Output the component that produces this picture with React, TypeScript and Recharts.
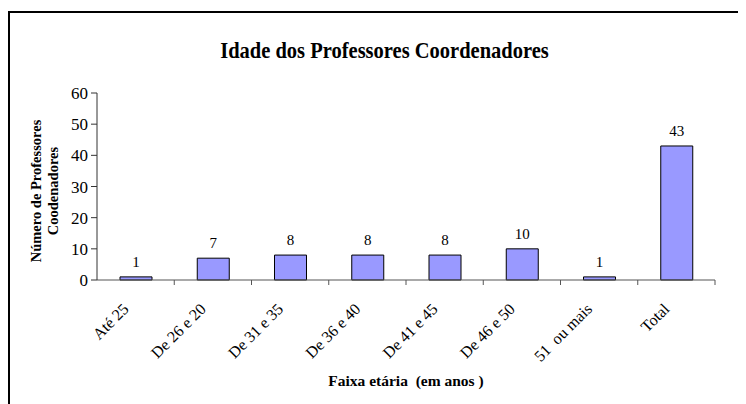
import React from 'react';
import { BarChart, Bar, XAxis, YAxis, LabelList } from 'recharts';

const categories = ['Até 25', 'De 26 e 20', 'De 31 e 35', 'De 36 e 40', 'De 41 e 45', 'De 46 e 50', '51  ou mais', 'Total'];
const professores = [1, 7, 8, 8, 8, 10, 1, 43];
const yTicks = [0, 10, 20, 30, 40, 50, 60];

const data = categories.map((faixa, i) => ({ faixa, valor: professores[i] }));

const FONT = '"Liberation Serif", "Times New Roman", serif';

// rotated label + tick mark on the right edge of each category band
const AngledTick = (props: any) => {
  const { x, y, payload } = props;
  const half = payload && payload.offset ? payload.offset : 77.25 / 2;
  const tx = x - 6;
  const ty = y + 22;
  return (
    <g>
      <line x1={x + half} y1={y - 8} x2={x + half} y2={y - 3} stroke="#555" />
      <text
        x={tx}
        y={ty}
        transform={`rotate(-45, ${tx}, ${ty})`}
        textAnchor="end"
        fontSize={16}
        fontFamily={FONT}
        fill="#000"
        style={{ whiteSpace: 'pre' }}
      >
        {payload.value}
      </text>
    </g>
  );
};

export default function App() {
  return (
    <div style={{ position: 'relative', width: 738, height: 396, overflow: 'hidden', fontFamily: FONT }}>
      <div
        style={{
          position: 'absolute',
          top: 3,
          left: 0,
          width: 800,
          height: 450,
          borderTop: '2px solid #000',
          borderLeft: '2px solid #000',
        }}
      />
      <div
        style={{
          position: 'absolute',
          top: 30,
          left: 0,
          width: 753,
          textAlign: 'center',
          fontWeight: 'bold',
          fontSize: 20.5,
          lineHeight: '24px',
          transform: 'scaleY(1.15)',
        }}
      >
        Idade dos Professores Coordenadores
      </div>
      <div
        style={{
          position: 'absolute',
          left: -73,
          top: 166,
          width: 220,
          height: 34,
          transform: 'rotate(-90deg)',
          textAlign: 'center',
          fontWeight: 'bold',
          fontSize: 14.5,
          lineHeight: '17px',
        }}
      >
        Número de Professores
        <br />
        Coodenadores
      </div>
      <div
        style={{
          position: 'absolute',
          top: 364,
          left: 248,
          width: 300,
          textAlign: 'center',
          fontWeight: 'bold',
          fontSize: 15.5,
          lineHeight: '18px',
          whiteSpace: 'pre',
        }}
      >
        {'Faixa etária  (em anos )'}
      </div>
      <div style={{ position: 'absolute', top: 0, left: 0 }}>
        <BarChart width={738} height={396} data={data} margin={{ top: 85, right: 31, left: 49, bottom: 64 }}>
          <XAxis
            dataKey="faixa"
            height={60}
            interval={0}
            tickLine={false}
            axisLine={{ stroke: '#555' }}
            tick={<AngledTick />}
          />
          <YAxis
            width={40}
            domain={[0, 60]}
            ticks={yTicks}
            tickSize={6}
            tickMargin={3}
            tickLine={{ stroke: '#333' }}
            axisLine={{ stroke: '#333' }}
            tick={{ fontSize: 17, fill: '#000', fontFamily: FONT }}
          />
          <Bar dataKey="valor" fill="#9999FF" stroke="#000" strokeWidth={1} barSize={32} isAnimationActive={false}>
            <LabelList dataKey="valor" position="top" offset={10} fontSize={15} fill="#000" fontFamily={FONT} />
          </Bar>
        </BarChart>
      </div>
    </div>
  );
}
